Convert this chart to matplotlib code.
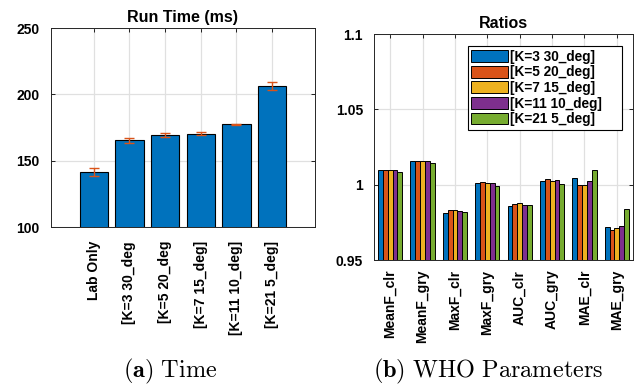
import matplotlib
matplotlib.use("Agg")
import matplotlib.pyplot as plt
import numpy as np

plt.rcParams['font.family'] = ['Liberation Sans', 'DejaVu Sans']
plt.rcParams['font.weight'] = 'bold'
plt.rcParams['mathtext.fontset'] = 'cm'

# run time data
time_labels = ['Lab Only', '[K=3 30_deg', '[K=5 20_deg', '[K=7 15_deg]', '[K=11 10_deg]', '[K=21 5_deg]']
time_vals = [141.7, 165.4, 169.1, 170.4, 177.4, 206.3]
time_err = [3.0, 2.0, 1.5, 1.0, 0.4, 3.0]

# ratio data
metrics = ['MeanF_clr', 'MeanF_gry', 'MaxF_clr', 'MaxF_gry', 'AUC_clr', 'AUC_gry', 'MAE_clr', 'MAE_gry']
series = ['[K=3 30_deg]', '[K=5 20_deg]', '[K=7 15_deg]', '[K=11 10_deg]', '[K=21 5_deg]']
k3 = [1.0097, 1.0159, 0.9809, 1.0009, 0.9856, 1.0022, 1.0042, 0.9721]
k5 = [1.0100, 1.0159, 0.9829, 1.0020, 0.9871, 1.0037, 1.0000, 0.9697]
k7 = [1.0100, 1.0159, 0.9834, 1.0013, 0.9876, 1.0026, 1.0000, 0.9714]
k11 = [1.0099, 1.0158, 0.9827, 1.0013, 0.9867, 1.0031, 1.0026, 0.9725]
k21 = [1.0086, 1.0141, 0.9821, 0.9993, 0.9863, 1.0004, 1.0097, 0.9836]
ratio_vals = [k3, k5, k7, k11, k21]

colors = ['#0072BD', '#D95319', '#EDB120', '#7E2F8E', '#77AC30']
grid_c = '#e0e0e0'

fig = plt.figure(figsize=(6.38, 3.86), dpi=100)

def style(ax):
    ax.set_axisbelow(True)
    ax.grid(True, color=grid_c, linewidth=0.9)
    ax.tick_params(direction='in', length=3, width=0.6, top=True, right=True,
                   labelsize=10)
    for s in ax.spines.values():
        s.set_linewidth(0.7)
        s.set_color('#262626')

# (a) run time
ax1 = fig.add_axes([0.0799, 0.4119, 0.4138, 0.5155])
x = np.arange(1, len(time_vals) + 1)
ax1.bar(x, time_vals, width=0.8, color=colors[0], edgecolor='black', linewidth=0.8)
ax1.errorbar(x, time_vals, yerr=time_err, fmt='none', ecolor=colors[1],
             elinewidth=1.0, capsize=3.3, capthick=1.0)
ax1.set_xlim(-0.2, 7.2)
ax1.set_ylim(100, 250)
ax1.set_yticks([100, 150, 200, 250])
ax1.set_xticks(x)
ax1.set_xticklabels(time_labels, rotation=90, ha='center', va='top')
style(ax1)
ax1.tick_params(axis='y', pad=8)
ax1.tick_params(axis='x', pad=10)
ax1.set_title('Run Time (ms)', fontsize=11.5, fontweight='bold', pad=4.5)

# (b) ratios
ax2 = fig.add_axes([0.5862, 0.3264, 0.406, 0.5855])
g = np.arange(1, len(metrics) + 1)
bw = 0.15
for i, vals in enumerate(ratio_vals):
    ax2.bar(g + (i - 2) * bw, vals, width=bw, color=colors[i], edgecolor='black',
            linewidth=0.7, label=series[i])
ax2.set_xlim(0.5, 8.5)
ax2.set_ylim(0.95, 1.1)
ax2.set_yticks([0.95, 1.0, 1.05, 1.1])
ax2.set_yticklabels(['0.95', '1', '1.05', '1.1'])
ax2.set_xticks(g)
ax2.set_xticklabels(metrics, rotation=90, ha='center', va='top')
style(ax2)
ax2.tick_params(axis='y', pad=8)
ax2.tick_params(axis='x', pad=7)
ax2.set_title('Ratios', fontsize=11.5, fontweight='bold', pad=4.5)
leg = ax2.legend(loc='upper left', bbox_to_anchor=(0.3618, 0.5, 0.5958, 0.4456),
                 mode='expand', fontsize=9.8,
                 handlelength=2.7, handleheight=0.95, labelspacing=0.12,
                 handletextpad=0.18, borderpad=0.25, borderaxespad=0.0,
                 fancybox=False, framealpha=1)
leg.get_frame().set_edgecolor('black')
leg.get_frame().set_linewidth(0.8)

fig.text(0.266, 0.038, r'$\mathbf{(a)}\ \mathrm{Time}$', fontsize=17.5, ha='center', va='center')
fig.text(0.765, 0.038, r'$\mathbf{(b)}\ \mathrm{WHO\ Parameters}$', fontsize=17.5, ha='center', va='center')

fig.savefig('out.png', dpi=100)
